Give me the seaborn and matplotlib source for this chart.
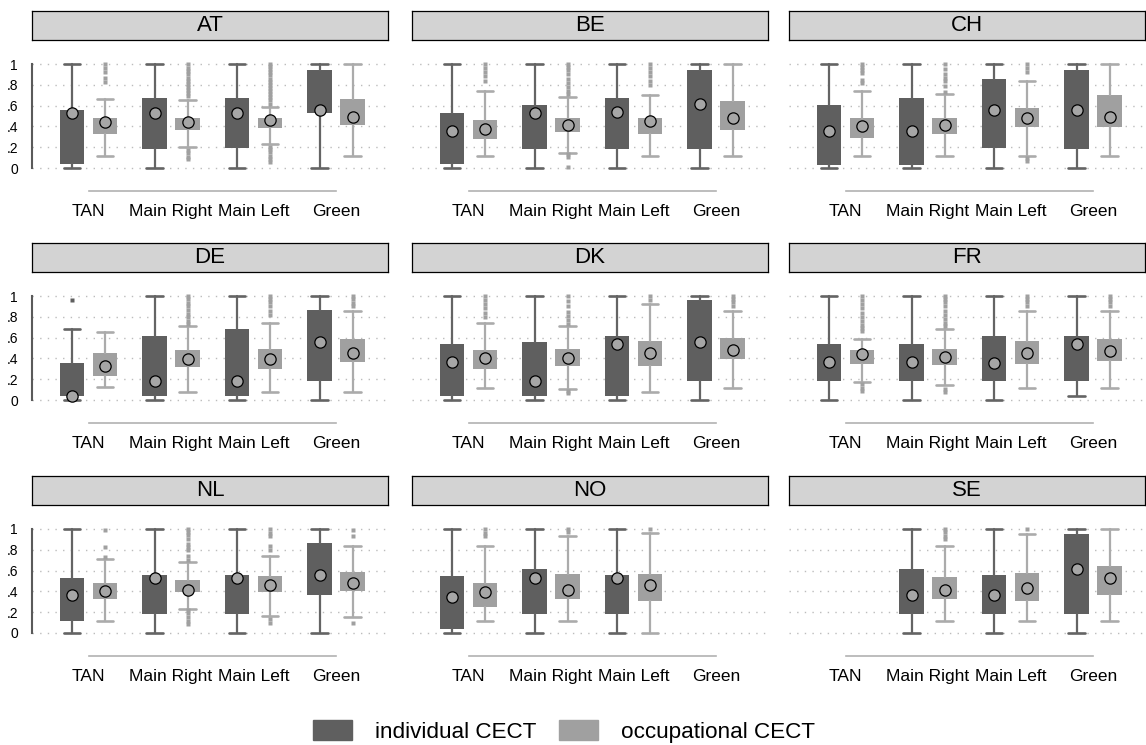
import numpy as np
import pandas as pd
import matplotlib
matplotlib.use("Agg")
import matplotlib.pyplot as plt
from matplotlib.patches import Patch
import seaborn as sns

# ---------------------------------------------------------------------------
# Data: per country, per party family -> [lower whisker, q1, median, q3, upper whisker]
# None marks a party family that is not present in that country.
# ---------------------------------------------------------------------------
COUNTRIES = ["AT", "BE", "CH", "DE", "DK", "FR", "NL", "NO", "SE"]
PARTIES = ["TAN", "Main Right", "Main Left", "Green"]
SERIES = ["individual CECT", "occupational CECT"]
Y_TICKS = [0, 0.2, 0.4, 0.6, 0.8, 1.0]
Y_TICK_LABELS = ["0", ".2", ".4", ".6", ".8", "1"]

AT_IND = [[0, 0.035, 0.53, 0.553, 1], [0, 0.185, 0.53, 0.677, 1],
          [0, 0.19, 0.53, 0.677, 1], [0, 0.527, 0.56, 0.946, 1]]
AT_OCC = [[0.115, 0.323, 0.447, 0.482, 0.665], [0.2, 0.364, 0.447, 0.482, 0.652],
          [0.227, 0.387, 0.466, 0.482, 0.588], [0.115, 0.41, 0.49, 0.665, 1]]
BE_IND = [[0, 0.035, 0.36, 0.53, 1], [0, 0.182, 0.527, 0.61, 1],
          [0, 0.182, 0.537, 0.677, 1], [0, 0.182, 0.613, 0.946, 1]]
BE_OCC = [[0.115, 0.281, 0.377, 0.466, 0.738], [0.147, 0.342, 0.41, 0.482, 0.68],
          [0.115, 0.323, 0.45, 0.482, 0.70], [0.115, 0.37, 0.479, 0.649, 1]]
CH_IND = [[0, 0.029, 0.36, 0.607, 1], [0, 0.029, 0.36, 0.677, 1],
          [0, 0.188, 0.553, 0.856, 1], [0, 0.182, 0.553, 0.946, 1]]
CH_OCC = [[0.115, 0.29, 0.40, 0.476, 0.738], [0.115, 0.326, 0.415, 0.482, 0.712],
          [0.12, 0.393, 0.479, 0.578, 0.84], [0.115, 0.393, 0.489, 0.703, 1]]
DE_IND = [[0, 0.035, 0.035, 0.357, 0.682], [0, 0.035, 0.183, 0.617, 1],
          [0, 0.035, 0.183, 0.685, 1], [0, 0.18, 0.553, 0.862, 1]]
DE_OCC = [[0.122, 0.228, 0.325, 0.453, 0.653], [0.077, 0.315, 0.399, 0.476, 0.711],
          [0.077, 0.302, 0.399, 0.486, 0.743], [0.077, 0.363, 0.453, 0.582, 0.855]]
DK_IND = [[0, 0.035, 0.363, 0.534, 1], [0, 0.035, 0.186, 0.553, 1],
          [0, 0.035, 0.54, 0.62, 1], [0, 0.186, 0.553, 0.958, 1]]
DK_OCC = [[0.113, 0.299, 0.405, 0.476, 0.736], [0.11, 0.325, 0.405, 0.486, 0.711],
          [0.077, 0.325, 0.453, 0.572, 0.926], [0.113, 0.395, 0.479, 0.592, 0.855]]
FR_IND = [[0, 0.186, 0.363, 0.534, 1], [0, 0.186, 0.363, 0.534, 1],
          [0, 0.186, 0.357, 0.62, 1], [0.039, 0.186, 0.54, 0.62, 1]]
FR_OCC = [[0.17, 0.35, 0.444, 0.476, 0.582], [0.141, 0.34, 0.41, 0.486, 0.685],
          [0.113, 0.35, 0.453, 0.572, 0.855], [0.113, 0.373, 0.469, 0.582, 0.855]]
NL_IND = [[0, 0.112, 0.365, 0.529, 1], [0, 0.186, 0.526, 0.558, 1],
          [0, 0.186, 0.526, 0.558, 1], [0, 0.362, 0.558, 0.865, 1]]
NL_OCC = [[0.112, 0.33, 0.407, 0.481, 0.712], [0.23, 0.397, 0.417, 0.513, 0.68],
          [0.16, 0.391, 0.462, 0.551, 0.737], [0.15, 0.40, 0.478, 0.59, 0.84]]
NO_IND = [[0, 0.038, 0.343, 0.551, 1], [0, 0.186, 0.526, 0.615, 1],
          [0, 0.186, 0.526, 0.558, 1], None]
NO_OCC = [[0.112, 0.25, 0.397, 0.481, 0.84], [0.112, 0.327, 0.417, 0.571, 0.93],
          [0, 0.311, 0.462, 0.571, 0.962], None]
SE_IND = [None, [0, 0.186, 0.365, 0.615, 1],
          [0, 0.186, 0.365, 0.558, 1], [0, 0.186, 0.615, 0.955, 1]]
SE_OCC = [None, [0.112, 0.327, 0.417, 0.538, 0.84],
          [0.112, 0.304, 0.433, 0.577, 0.952], [0.112, 0.369, 0.526, 0.647, 1]]

# Outlying observations beyond the whiskers
AT_OCC_OUT = [[0.83, 0.87, 0.92, 0.96, 1.0],
              [0.69, 0.72, 0.75, 0.78, 0.81, 0.84, 0.87, 0.9, 0.93, 0.96, 1.0, 0.09, 0.11, 0.14, 0.17],
              [0.62, 0.65, 0.68, 0.71, 0.74, 0.77, 0.8, 0.83, 0.86, 0.89, 0.92, 0.95, 0.98, 1.0,
               0.06, 0.09, 0.12, 0.15, 0.18, 0.2],
              []]
BE_OCC_OUT = [[0.84, 0.88, 0.92, 0.96, 1.0],
              [0.71, 0.74, 0.78, 0.82, 0.86, 0.9, 0.94, 0.97, 1.0, 0.105, 0.13, 0.01],
              [0.8, 0.84, 0.88, 0.92, 0.96, 1.0],
              []]
CH_OCC_OUT = [[0.82, 0.85, 0.91, 0.94, 0.97, 1.0],
              [0.73, 0.79, 0.84, 0.87, 0.9, 0.95, 1.0],
              [0.92, 0.96, 1.0, 0.07, 0.1],
              []]
DE_IND_OUT = [[0.958], [], [], []]
DE_OCC_OUT = [[],
              [0.73, 0.76, 0.8, 0.83, 0.87, 0.9, 0.93, 0.97, 1.0],
              [0.82, 0.86, 0.9, 0.94, 0.97, 1.0],
              [0.9, 0.93, 0.97, 1.0]]
DK_OCC_OUT = [[0.8, 0.84, 0.88, 0.92, 0.96, 1.0],
              [0.73, 0.77, 0.81, 0.85, 0.9, 0.95, 1.0, 0.07, 0.09],
              [0.96, 1.0],
              [0.9, 0.94, 0.97, 1.0]]
FR_OCC_OUT = [[0.66, 0.69, 0.72, 0.76, 0.8, 0.84, 0.88, 0.92, 0.96, 1.0, 0.09, 0.12, 0.15],
              [0.71, 0.74, 0.78, 0.82, 0.86, 0.9, 0.94, 0.97, 1.0, 0.08, 0.11],
              [0.9, 0.94, 0.97, 1.0],
              [0.9, 0.94, 0.97, 1.0]]
NL_OCC_OUT = [[0.73, 0.83, 0.99],
              [0.7, 0.74, 0.8, 0.83, 0.86, 0.9, 0.94, 0.97, 1.0, 0.09, 0.12, 0.15, 0.19, 0.22],
              [0.8, 0.84, 0.93, 0.96, 1.0, 0.1, 0.13],
              [0.93, 0.99, 0.1]]
NO_OCC_OUT = [[0.93, 0.96, 1.0], [0.97, 1.0], [1.0], []]
SE_OCC_OUT = [[], [0.9, 0.93, 0.97, 1.0], [1.0], []]

IND_STATS = dict(AT=AT_IND, BE=BE_IND, CH=CH_IND, DE=DE_IND, DK=DK_IND,
                 FR=FR_IND, NL=NL_IND, NO=NO_IND, SE=SE_IND)
OCC_STATS = dict(AT=AT_OCC, BE=BE_OCC, CH=CH_OCC, DE=DE_OCC, DK=DK_OCC,
                 FR=FR_OCC, NL=NL_OCC, NO=NO_OCC, SE=SE_OCC)
NO_OUT = [[], [], [], []]
IND_OUT = dict(DE=DE_IND_OUT)
OCC_OUT = dict(AT=AT_OCC_OUT, BE=BE_OCC_OUT, CH=CH_OCC_OUT, DE=DE_OCC_OUT, DK=DK_OCC_OUT,
               FR=FR_OCC_OUT, NL=NL_OCC_OUT, NO=NO_OCC_OUT, SE=SE_OCC_OUT)

# ---------------------------------------------------------------------------
# Style
# ---------------------------------------------------------------------------
sns.set_theme(style="white")
plt.rcParams["font.family"] = ["Liberation Sans", "DejaVu Sans"]
plt.rcParams["text.color"] = "black"

DARK = "#5f5f5f"
LIGHT = "#a0a0a0"
DARK_WHISK = "#646464"
LIGHT_WHISK = "#ababab"
MED_FILL = "#a6a6a6"

W, H = 1146, 745
fig = plt.figure(figsize=(W / 100, H / 100), dpi=100)


def px_rect(left, top, width, height):
    return [left / W, 1 - (top + height) / H, width / W, height / H]


COL_LEFT = [32, 412, 789]
PANEL_W = 356
ZERO_Y = [168, 400, 633]
UNIT = 104
YLIM = (-0.22, 1.08)
XLIM = (0.315, 4.63)
OFFSET = 0.2
BOX_W = 0.30


def series_frame(country):
    rows = []
    for s_name, stats, outs in [(SERIES[0], IND_STATS[country], IND_OUT.get(country, NO_OUT)),
                                (SERIES[1], OCC_STATS[country], OCC_OUT.get(country, NO_OUT))]:
        for i, party in enumerate(PARTIES):
            st = stats[i]
            if st is None:
                continue
            rows.append(dict(series=s_name, party=party, idx=i,
                             lo=st[0], q1=st[1], med=st[2], q3=st[3], hi=st[4],
                             out=outs[i]))
    return pd.DataFrame(rows)


for k, country in enumerate(COUNTRIES):
    r, c = divmod(k, 3)
    zero = ZERO_Y[r]
    ax_h = (YLIM[1] - YLIM[0]) * UNIT
    ax_top = zero - YLIM[1] * UNIT
    ax = fig.add_axes(px_rect(COL_LEFT[c], ax_top, PANEL_W, ax_h))
    df = series_frame(country)
    df["x"] = df["idx"] + 1 + np.where(df["series"] == SERIES[0], -OFFSET, OFFSET)

    for s_name, fill, wcol in [(SERIES[0], DARK, DARK_WHISK), (SERIES[1], LIGHT, LIGHT_WHISK)]:
        sub = df[df["series"] == s_name]
        stats = [dict(whislo=row.lo, q1=row.q1, med=row.med, q3=row.q3,
                      whishi=row.hi, fliers=list(row.out)) for row in sub.itertuples()]
        ax.bxp(stats, positions=sub["x"].tolist(), widths=BOX_W, capwidths=0.2,
               patch_artist=True, showfliers=True, manage_ticks=False,
               boxprops=dict(facecolor=fill, edgecolor=fill, linewidth=0),
               whiskerprops=dict(color=wcol, linewidth=1.6),
               capprops=dict(color=wcol, linewidth=1.9),
               medianprops=dict(linewidth=0),
               flierprops=dict(marker="s", markersize=3.4, markerfacecolor=fill,
                               markeredgecolor="none"),
               zorder=3)

    # medians as grey circles with black outline
    sns.scatterplot(data=df, x="x", y="med", ax=ax, s=66, color=MED_FILL,
                    edgecolor="black", linewidth=0.9, zorder=6, legend=False)

    ax.set_xlim(*XLIM)
    ax.set_ylim(*YLIM)
    ax.set_xlabel("")
    ax.set_ylabel("")
    ax.set_yticks(Y_TICKS)
    ax.yaxis.grid(True, color="#bcbcbc", linestyle=(0, (1, 4.5)), linewidth=1.0)
    ax.xaxis.grid(False)
    ax.set_axisbelow(True)
    ax.set_xticks(range(1, len(PARTIES) + 1))
    ax.set_xticklabels(PARTIES, fontsize=12.5, color="black")
    ax.tick_params(axis="x", length=0, pad=9.5)
    ax.set_facecolor("white")
    for side in ["top", "right"]:
        ax.spines[side].set_visible(False)
    ax.spines["bottom"].set_bounds(1, len(PARTIES))
    ax.spines["bottom"].set_color("#b2b2b2")
    ax.spines["bottom"].set_linewidth(1.2)
    if c == 0:
        ax.set_yticklabels(Y_TICK_LABELS, fontsize=10, color="black")
        ax.tick_params(axis="y", length=0, pad=10)
        ax.spines["left"].set_bounds(0, 1)
        ax.spines["left"].set_color("#5a5a5a")
        ax.spines["left"].set_linewidth(1.5)
    else:
        ax.set_yticklabels([])
        ax.tick_params(axis="y", length=0)
        ax.spines["left"].set_visible(False)

    # strip title
    sax = fig.add_axes(px_rect(COL_LEFT[c], zero - 157, PANEL_W, 29))
    sax.set_facecolor("#d3d3d3")
    sax.set_xticks([])
    sax.set_yticks([])
    for sp in sax.spines.values():
        sp.set_visible(True)
        sp.set_color("black")
        sp.set_linewidth(0.9)
    sax.text(0.5, 0.5, country, ha="center", va="center", fontsize=16,
             color="black", transform=sax.transAxes)

handles = [Patch(facecolor=DARK, edgecolor=DARK), Patch(facecolor=LIGHT, edgecolor=LIGHT)]
fig.legend(handles, SERIES, loc="lower center", bbox_to_anchor=(0.492, -0.024), ncol=2,
           frameon=False, fontsize=16.2, labelcolor="black", handlelength=1.75,
           handleheight=1.0, handletextpad=1.0, columnspacing=1.0)

fig.savefig("out.png", dpi=100, facecolor="white")
